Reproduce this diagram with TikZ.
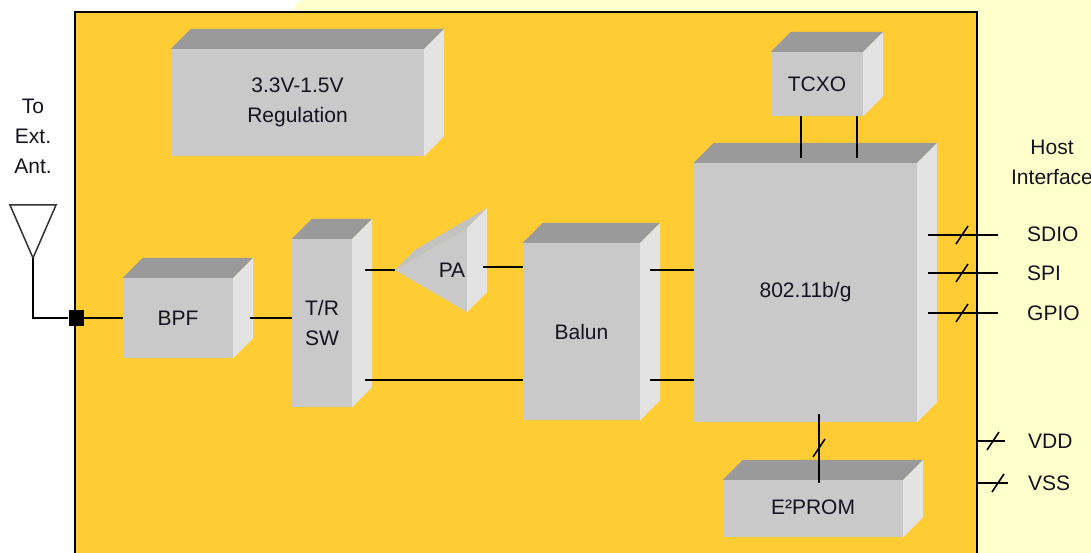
\documentclass[tikz,border=0pt]{standalone}
\usepackage{fontspec}
\setmainfont{Liberation Sans}
\definecolor{orangebg}{HTML}{FFCC33}
\definecolor{paleyel}{HTML}{FFFFCC}
\definecolor{frontgray}{HTML}{C9C9C9}
\definecolor{topgray}{HTML}{9A9A9A}
\definecolor{sidegray}{HTML}{E3E3E3}
\definecolor{txt}{HTML}{141420}
\newcommand\cubefaces[1]{%
  \fill[topgray] (#1.north west) -- ++(20,-20) -- ([shift={(20,-20)}]#1.north east) -- (#1.north east) -- cycle;
  \fill[sidegray] (#1.north east) -- ++(20,-20) -- ([shift={(20,-20)}]#1.south east) -- (#1.south east) -- cycle;}
\begin{document}
\begin{tikzpicture}[x=1pt,y=-1pt,
  front/.style={fill=frontgray, inner sep=0pt, align=center, text=txt,
    font=\fontsize{21}{30}\selectfont},
  lbl/.style={inner sep=0pt, align=center, text=txt, font=\fontsize{21}{30}\selectfont},
  wire/.style={line width=2.2pt, black},
  slashmark/.style={line width=1.6pt, black}]
\useasboundingbox (0,0) rectangle (1091,553);
% backgrounds
\fill[white] (0,0) rectangle (1091,553);
\fill[paleyel, rounded corners=12pt] (293,0) rectangle (1110,570);
\draw[fill=orangebg, line width=2pt] (75,12) rectangle (977,570);
% blocks
\node[front, minimum width=253pt, minimum height=107pt] (reg) at (297.5,102.5) {3.3V-1.5V\\Regulation};
\node[front, minimum width=92pt, minimum height=64pt] (tcxo) at (817,84) {TCXO};
\node[front, minimum width=223pt, minimum height=259pt] (wifi) at (805.5,292.5) {\raisebox{-3pt}{802.11b/g}};
\node[front, minimum width=180pt, minimum height=57pt] (eprom) at (813,508.5) {\raisebox{2pt}{E²PROM}};
\node[front, minimum width=110pt, minimum height=80pt] (bpf) at (178,318) {BPF};
\node[front, minimum width=60pt, minimum height=168pt] (trsw) at (322,323) {T/R\\SW};
\node[front, minimum width=117pt, minimum height=177pt] (balun) at (581.5,331.5) {\raisebox{-4pt}{Balun}};
\cubefaces{reg}
\cubefaces{tcxo}
\cubefaces{wifi}
\cubefaces{eprom}
\cubefaces{bpf}
\cubefaces{trsw}
\cubefaces{balun}
% PA
\fill[frontgray] (395,270) -- (467,228) -- (467,312) -- cycle;
\fill[frontgray!85!topgray] (395,270) -- (415,250) -- (487,208) -- (467,228) -- cycle;
\fill[sidegray] (467,228) -- (487,208) -- (487,292) -- (467,312) -- cycle;
\node[lbl] (pa) at (452,270) {PA};
\coordinate (patip) at (395,270);
\coordinate (paout) at (483,267);
% antenna
\draw[line width=1.5pt, black!80] (10,205) -- (56,205) -- (33,258) -- cycle;
\coordinate (antfoot) at (33,258);
\node[lbl] (antlbl) at (33,136) {To\\Ext.\\Ant.};
\node[fill=black, minimum width=15pt, minimum height=16pt, inner sep=0pt] (jn) at (76,318) {};
\draw[wire] (antfoot) |- (jn);
\draw[wire] (jn) -- (bpf.west);
\draw[wire] ([xshift=17pt]bpf.east) -- (trsw.west |- bpf.east);
% T/R SW connections
\draw[wire] ([xshift=13pt]trsw.east |- patip) -- (patip);
\draw[wire] ([xshift=13pt]trsw.east |- 0,380) -- (balun.west |- 0,380);
\draw[wire] (paout) -- (balun.west |- paout);
% balun to wifi
\draw[wire] ([xshift=10pt]balun.east |- 0,270) -- (wifi.west |- 0,270);
\draw[wire] ([xshift=10pt]balun.east |- 0,380) -- (wifi.west |- 0,380);
% tcxo to wifi
\draw[wire] (tcxo.south -| 801,0) -- ([yshift=5pt]wifi.north -| 801,0);
\draw[wire] (tcxo.south -| 857,0) -- ([yshift=5pt]wifi.north -| 857,0);
% host interface
\node[lbl] (host) at (1052,162) {Host\\Interface};
\node[lbl, anchor=west] (sdio) at (1027,234) {SDIO};
\node[lbl, anchor=west] (spi) at (1027,273) {SPI};
\node[lbl, anchor=west] (gpio) at (1027,313) {GPIO};
\coordinate (sdioend) at (998,235);
\coordinate (spiend) at (998,273);
\coordinate (gpioend) at (998,313);
\draw[wire] ([xshift=11pt]wifi.east |- sdioend) -- (sdioend);
\draw[wire] ([xshift=11pt]wifi.east |- spiend) -- (spiend);
\draw[wire] ([xshift=11pt]wifi.east |- gpioend) -- (gpioend);
\draw[slashmark] (962,235) ++(-6,9) -- ++(12,-18);
\draw[slashmark] (962,273) ++(-6,9) -- ++(12,-18);
\draw[slashmark] (962,313) ++(-6,9) -- ++(12,-18);
% power
\node[lbl, anchor=west] (vdd) at (1028,441) {VDD};
\node[lbl, anchor=west] (vss) at (1028,483) {VSS};
\coordinate (vddin) at (977,441);
\coordinate (vddend) at (1005,441);
\coordinate (vssin) at (977,483);
\coordinate (vssend) at (1008,483);
\draw[wire] (vddin) -- (vddend);
\draw[wire] (vssin) -- (vssend);
\draw[slashmark] (993,441) ++(-6,9) -- ++(12,-18);
\draw[slashmark] (998,483) ++(-6,9) -- ++(12,-18);
% eprom
\draw[wire] ([yshift=8pt]wifi.south -| 819,0) -- ([yshift=-3pt]eprom.north -| 819,0);
\draw[slashmark] (819,448) ++(-6,9) -- ++(12,-18);
\end{tikzpicture}
\end{document}
